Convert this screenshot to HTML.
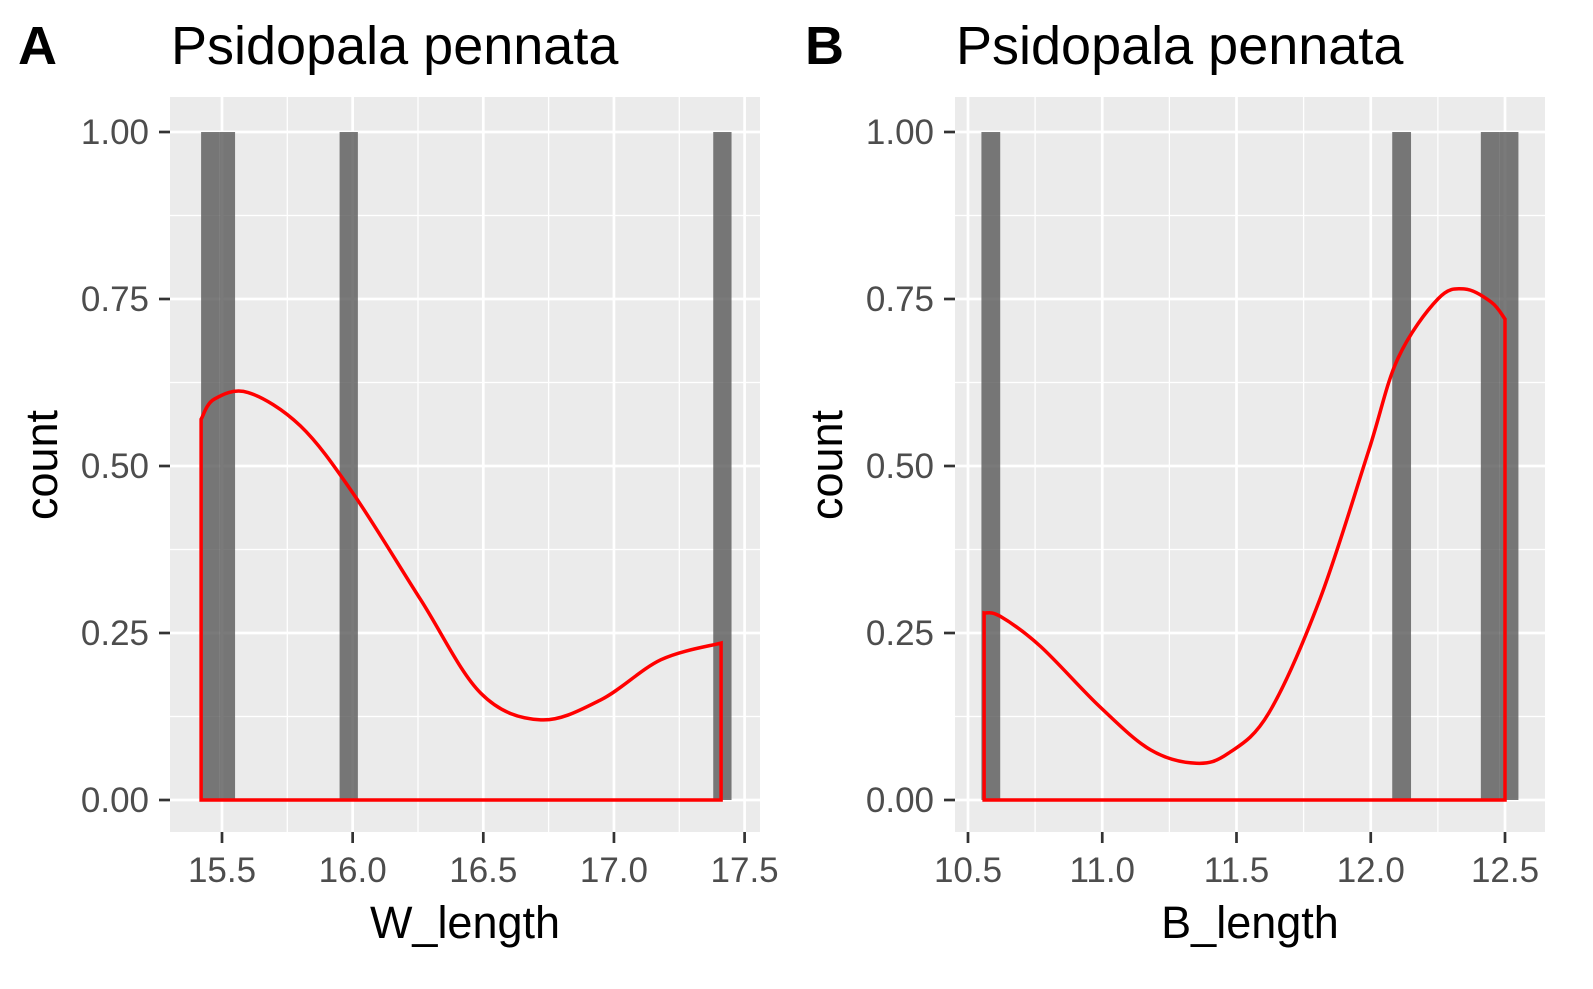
<!DOCTYPE html>
<html><head><meta charset="utf-8"><style>
body{margin:0;background:#fff;}
svg text{font-family:"Liberation Sans",Arial,sans-serif;}
</style></head><body>
<svg id="s" width="1593" height="984" xmlns="http://www.w3.org/2000/svg"></svg>
<script>
// Panel A data
const aBins=[[15.42,15.49,1],[15.49,15.55,1],[15.95,16.02,1],[17.38,17.45,1]];
const aDensX=[15.42,15.47,15.6,15.8,16.0,16.26,16.49,16.72,16.95,17.18,17.41];
const aDensY=[0.57,0.60,0.61,0.56,0.46,0.30,0.16,0.12,0.15,0.21,0.235];
const aXTicks=[15.5,16.0,16.5,17.0,17.5];
// Panel B data
const bBins=[[10.55,10.62,1],[12.08,12.15,1],[12.41,12.48,1],[12.48,12.55,1]];
const bDensX=[10.56,10.62,10.77,10.99,11.18,11.35,11.47,11.62,11.81,11.99,12.1,12.25,12.35,12.45,12.5];
const bDensY=[0.28,0.275,0.23,0.14,0.075,0.055,0.07,0.13,0.30,0.52,0.66,0.75,0.765,0.745,0.72];
const bXTicks=[10.5,11.0,11.5,12.0,12.5];
const yTicks=[0,0.25,0.5,0.75,1.0];
const yLabels=["0.00","0.25","0.50","0.75","1.00"];

const NS="http://www.w3.org/2000/svg";
const svg=document.getElementById('s');
function el(tag,attrs,parent,text){const e=document.createElementNS(NS,tag);for(const k in attrs)e.setAttribute(k,attrs[k]);if(text!==undefined)e.textContent=text;(parent||svg).appendChild(e);return e;}

function panel(o){
  const g=el('g',{});
  
  
  const x=v=>o.x0px+(v-o.x0)*o.xs;
  const y=v=>800-v*668;
  const bg=el('rect',{x:o.left,y:97,width:o.right-o.left,height:735,fill:'#EBEBEB'},g);
  
  
  for(let i=0;i<o.xt.length-1;i++){const v=(o.xt[i]+o.xt[i+1])/2;const l=el('line',{x1:x(v),x2:x(v),y1:97,y2:832,stroke:'#fff','stroke-width':1.3},g);}
  {const v=o.xt[0]-0.25; if(x(v)>o.left){const l=el('line',{x1:x(v),x2:x(v),y1:97,y2:832,stroke:'#fff','stroke-width':1.3},g);}}
  for(let i=0;i<yTicks.length-1;i++){const v=(yTicks[i]+yTicks[i+1])/2;const l=el('line',{x1:o.left,x2:o.right,y1:y(v),y2:y(v),stroke:'#fff','stroke-width':1.3},g);}
  o.xt.forEach(v=>{const l=el('line',{x1:x(v),x2:x(v),y1:97,y2:832,stroke:'#fff','stroke-width':2.7},g);});
  yTicks.forEach(v=>{const l=el('line',{x1:o.left,x2:o.right,y1:y(v),y2:y(v),stroke:'#fff','stroke-width':2.7},g);});
  o.bins.forEach(b=>{const r=el('rect',{x:x(b[0]),y:y(b[2]),width:x(b[1])-x(b[0]),height:y(0)-y(b[2]),fill:'#595959','fill-opacity':0.8},g);});
  let d=`M${x(o.dx[0])},${y(0)}`;
  const pts=o.dx.map((v,i)=>[x(v),y(o.dy[i])]);
  d+=` L${pts[0][0]},${pts[0][1]}`;
  for(let i=1;i<pts.length;i++){const p0=pts[Math.max(0,i-2)],p1=pts[i-1],p2=pts[i],p3=pts[Math.min(pts.length-1,i+1)];
    d+=` C${p1[0]+(p2[0]-p0[0])/6},${p1[1]+(p2[1]-p0[1])/6} ${p2[0]-(p3[0]-p1[0])/6},${p2[1]-(p3[1]-p1[1])/6} ${p2[0]},${p2[1]}`;}
  d+=` L${pts[pts.length-1][0]},${y(0)} Z`;
  const p=el('path',{d:d,fill:'none',stroke:'#FF0000','stroke-width':3.5},g);
  
  yTicks.forEach((v,i)=>{
    const t=el('line',{x1:o.left-11,x2:o.left,y1:y(v),y2:y(v),stroke:'#333','stroke-width':2.7},g);
    const tx=el('text',{x:o.left-21,y:y(v)+12,'text-anchor':'end','font-size':35,fill:'#4D4D4D'},g,yLabels[i]);
  });
  o.xt.forEach(v=>{
    const t=el('line',{x1:x(v),x2:x(v),y1:832,y2:843,stroke:'#333','stroke-width':2.7},g);
    const tx=el('text',{x:x(v),y:882,'text-anchor':'middle','font-size':35,fill:'#4D4D4D'},g,v.toFixed(1));
  });
  const xt=el('text',{x:(o.left+o.right)/2,y:938,'text-anchor':'middle','font-size':45,fill:'#000'},g,o.xlab);
  const yt=el('text',{x:0,y:0,transform:`translate(${o.left-113},465) rotate(-90)`,'text-anchor':'middle','font-size':45,fill:'#000'},g,'count');
  const ti=el('text',{x:o.left+1,y:64,'font-size':54,fill:'#000'},g,'Psidopala pennata');
  const tag=el('text',{x:o.tagx,y:64,'font-size':54,'font-weight':'bold',fill:'#000'},g,o.tag);
}
panel({name:'panel-a',left:170,right:760,x0:15.5,x0px:222,xs:261.3,xt:aXTicks,bins:aBins,dx:aDensX,dy:aDensY,xlab:'W_length',tag:'A',tagx:18});
panel({name:'panel-b',left:955,right:1545,x0:10.5,x0px:968,xs:268.5,xt:bXTicks,bins:bBins,dx:bDensX,dy:bDensY,xlab:'B_length',tag:'B',tagx:805});
</script>
</body></html>
